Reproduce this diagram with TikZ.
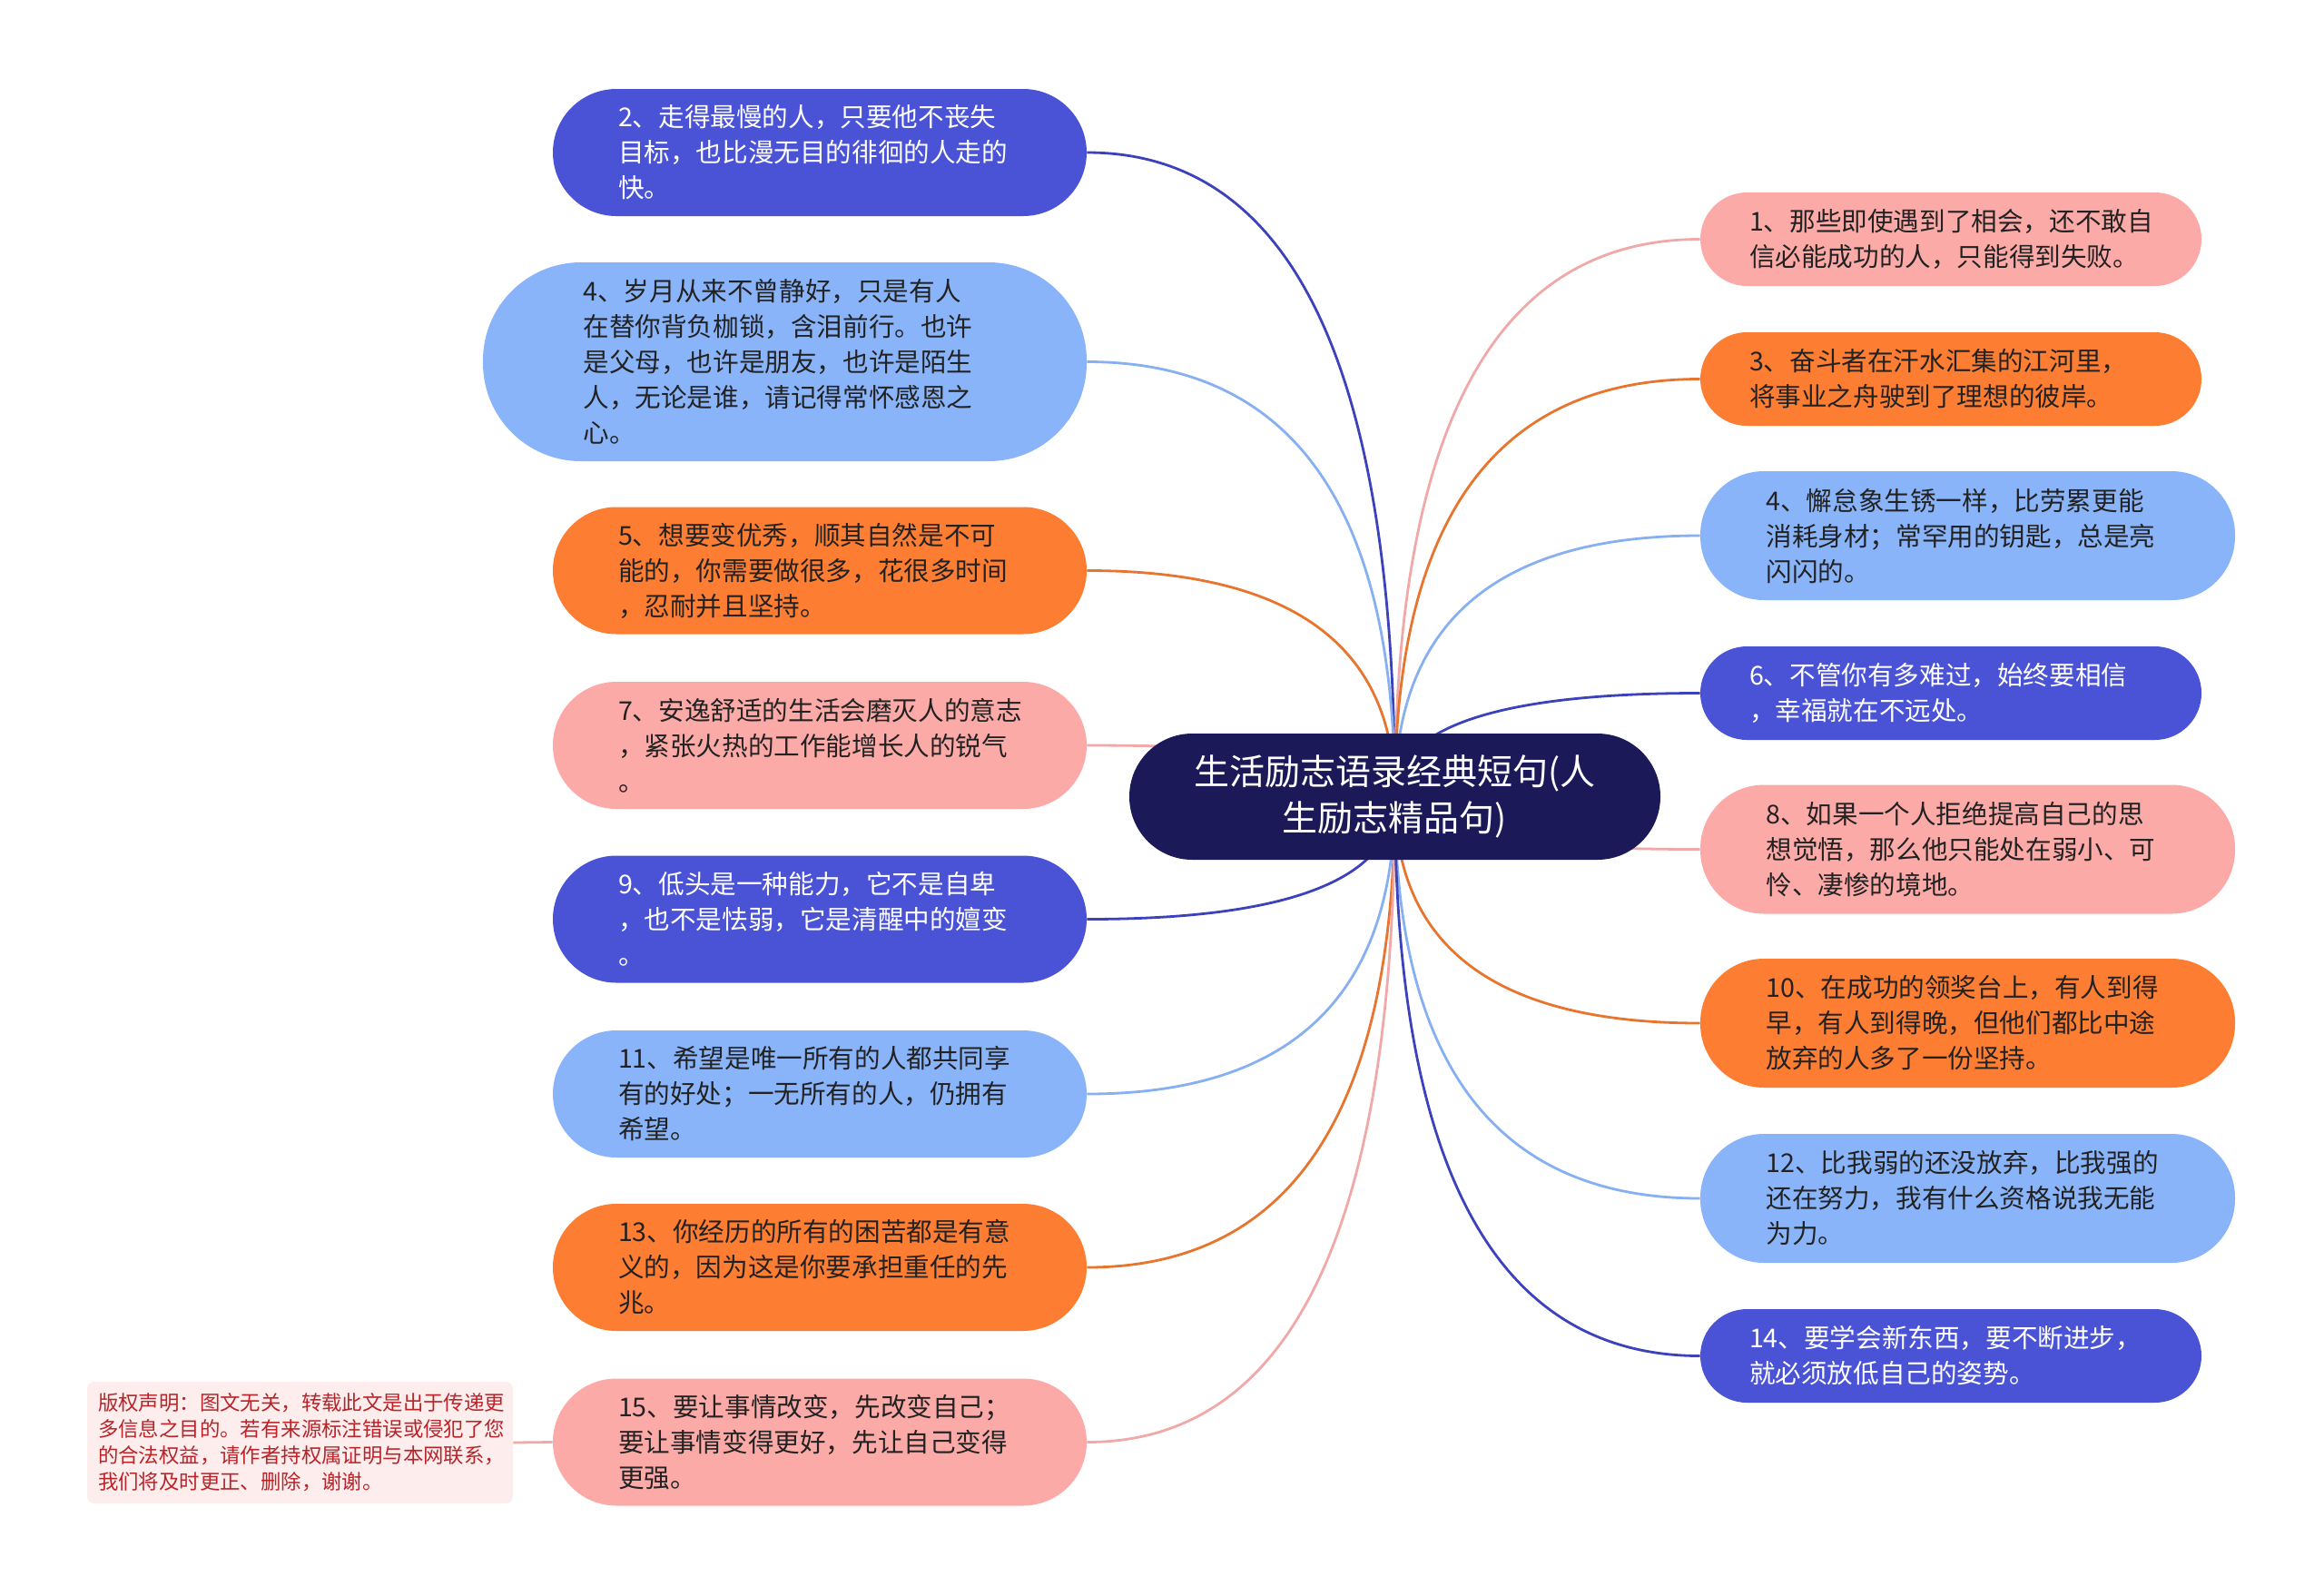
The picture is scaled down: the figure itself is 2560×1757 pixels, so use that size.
\documentclass[tikz,border=0pt]{standalone}
\usepackage{fontspec}
\setmainfont{Noto Sans CJK SC}
\usetikzlibrary{calc}
\definecolor{dblue}{HTML}{4A53D6}
\definecolor{lblue}{HTML}{8AB4FA}
\definecolor{orng}{HTML}{FD7D32}
\definecolor{pink}{HTML}{FCAAA8}
\definecolor{cnavy}{HTML}{1B1958}
\definecolor{dbline}{HTML}{3C42BC}
\definecolor{lbline}{HTML}{86B0F2}
\definecolor{orline}{HTML}{E8752E}
\definecolor{pkline}{HTML}{F0A8A8}
\definecolor{cpbg}{HTML}{FDEDEC}
\definecolor{cptext}{HTML}{B8242A}
\definecolor{dtext}{HTML}{222222}
\pgfdeclarelayer{bgl}
\pgfdeclarelayer{links}
\pgfsetlayers{bgl,links,main}
\tikzset{
  leafbox/.style={rectangle, inner sep=0pt, text width=222pt, align=left,
    font=\fontsize{14.3pt}{19.5pt}\selectfont},
  lsize/.style={minimum width=294pt, minimum height=70pt, rounded corners=35pt},
  rsmall/.style={minimum width=276pt, minimum height=51.5pt, rounded corners=25.7pt},
  rbig/.style={minimum width=294.5pt, minimum height=71pt, rounded corners=35pt},
  fdb/.style={fill=dblue, text=white},
  flb/.style={fill=lblue, text=dtext},
  for/.style={fill=orng, text=dtext},
  fpk/.style={fill=pink, text=dtext},
  linkline/.style={line width=1.4pt}
}
\newcommand\mmlink[2]{%
  \draw[linkline,#1] (c.center) .. controls ($(c.center)!0.6667!(c.center |- #2)$)
    and ($(#2)!0.6667!(c.center |- #2)$) .. (#2);}
\begin{document}
\begin{tikzpicture}[x=0.5pt,y=-0.5pt]
\useasboundingbox (0,0) rectangle (2560,1757);
\begin{pgfonlayer}{bgl}
\fill[white] (0,0) rectangle (2560,1757);
\end{pgfonlayer}

% center
\node[rectangle, inner sep=0pt, fill=cnavy, text=white, minimum width=292.5pt,
  minimum height=69.5pt, rounded corners=34.7pt, align=center,
  font=\fontsize{19.5pt}{25.3pt}\selectfont] (c) at (1536.5,877.5)
  {生活励志语录经典短句(人\\生励志精品句)};

% left nodes
\node[leafbox,lsize,fdb] (L2) at (903,168) {2、走得最慢的人，只要他不丧失\\目标，也比漫无目的徘徊的人走的\\快。};
\node[leafbox,flb,minimum width=332.5pt,minimum height=109.5pt,rounded corners=54pt] (L4) at (864.5,398.5) {4、岁月从来不曾静好，只是有人\\在替你背负枷锁，含泪前行。也许\\是父母，也许是朋友，也许是陌生\\人，无论是谁，请记得常怀感恩之\\心。};
\node[leafbox,lsize,for] (L5) at (903,628.5) {5、想要变优秀，顺其自然是不可\\能的，你需要做很多，花很多时间\\，忍耐并且坚持。};
\node[leafbox,lsize,fpk] (L7) at (903,821) {7、安逸舒适的生活会磨灭人的意志\\，紧张火热的工作能增长人的锐气\\。};
\node[leafbox,lsize,fdb] (L9) at (903,1012.5) {9、低头是一种能力，它不是自卑\\，也不是怯弱，它是清醒中的嬗变\\。};
\node[leafbox,lsize,flb] (L11) at (903,1205) {11、希望是唯一所有的人都共同享\\有的好处；一无所有的人，仍拥有\\希望。};
\node[leafbox,lsize,for] (L13) at (903,1396) {13、你经历的所有的困苦都是有意\\义的，因为这是你要承担重任的先\\兆。};
\node[leafbox,lsize,fpk] (L15) at (903,1588.5) {15、要让事情改变，先改变自己；\\要让事情变得更好，先让自己变得\\更强。};

% right nodes
\node[leafbox,rsmall,fpk] (R1) at (2149,263.5) {1、那些即使遇到了相会，还不敢自\\信必能成功的人，只能得到失败。};
\node[leafbox,rsmall,for] (R3) at (2149,417.5) {3、奋斗者在汗水汇集的江河里，\\将事业之舟驶到了理想的彼岸。};
\node[leafbox,rbig,flb] (R4) at (2167.5,590) {4、懈怠象生锈一样，比劳累更能\\消耗身材；常罕用的钥匙，总是亮\\闪闪的。};
\node[leafbox,rsmall,fdb] (R6) at (2149,763.5) {6、不管你有多难过，始终要相信\\，幸福就在不远处。};
\node[leafbox,rbig,fpk] (R8) at (2167.5,935.5) {8、如果一个人拒绝提高自己的思\\想觉悟，那么他只能处在弱小、可\\怜、凄惨的境地。};
\node[leafbox,rbig,for] (R10) at (2167.5,1127) {10、在成功的领奖台上，有人到得\\早，有人到得晚，但他们都比中途\\放弃的人多了一份坚持。};
\node[leafbox,rbig,flb] (R12) at (2167.5,1320) {12、比我弱的还没放弃，比我强的\\还在努力，我有什么资格说我无能\\为力。};
\node[leafbox,rsmall,fdb] (R14) at (2149,1493.5) {14、要学会新东西，要不断进步，\\就必须放低自己的姿势。};

% copyright note
\node[rectangle, inner sep=0pt, fill=cpbg, text=cptext, minimum width=234.5pt,
  minimum height=67pt, rounded corners=4pt, text width=222.5pt, align=left,
  font=\fontsize{11.2pt}{14.5pt}\selectfont] (cp) at (330.5,1589)
  {版权声明：图文无关，转载此文是出于传递更\\多信息之目的。若有来源标注错误或侵犯了您\\的合法权益，请作者持权属证明与本网联系，\\我们将及时更正、删除，谢谢。};

\begin{pgfonlayer}{links}
\mmlink{dbline}{L2.east}
\mmlink{lbline}{L4.east}
\mmlink{orline}{L5.east}
\mmlink{pkline}{L7.east}
\mmlink{dbline}{L9.east}
\mmlink{lbline}{L11.east}
\mmlink{orline}{L13.east}
\mmlink{pkline}{L15.east}
\mmlink{pkline}{R1.west}
\mmlink{orline}{R3.west}
\mmlink{lbline}{R4.west}
\mmlink{dbline}{R6.west}
\mmlink{pkline}{R8.west}
\mmlink{orline}{R10.west}
\mmlink{lbline}{R12.west}
\mmlink{dbline}{R14.west}
\draw[linkline,pkline] (cp.east) -- (L15.west);
\end{pgfonlayer}
\end{tikzpicture}
\end{document}
